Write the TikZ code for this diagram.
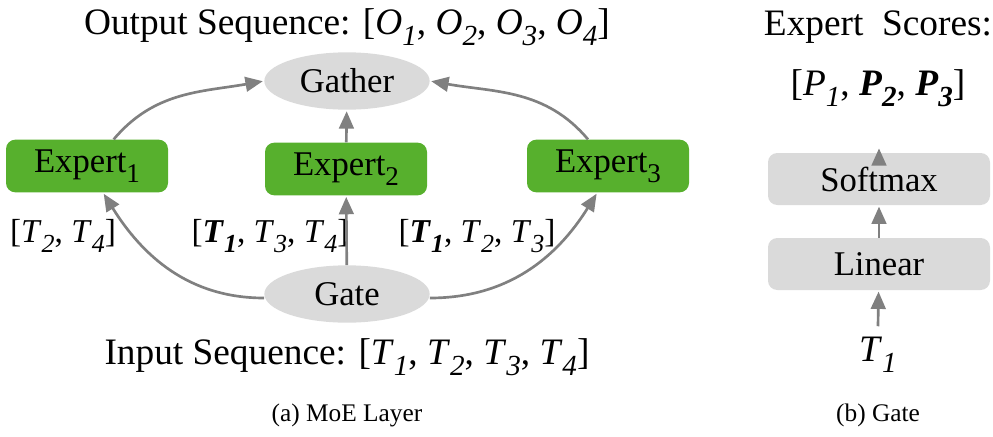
\documentclass[tikz,border=0pt]{standalone}
\usepackage{fontspec}
\setmainfont{Liberation Serif}
\usetikzlibrary{arrows.meta, positioning, shapes.geometric}
\definecolor{moeGreen}{RGB}{87,176,45}
\definecolor{moeGray}{RGB}{218,218,218}
\definecolor{moeArrow}{RGB}{128,128,128}
\newcommand{\lowsub}[1]{\raisebox{-0.3em}{\scalebox{0.78}{#1}}}
\newcommand{\tok}[2]{\textit{#1}\lowsub{\textit{#2}}}
\newcommand{\btok}[2]{\textbf{\textit{#1}\lowsub{\textbf{\textit{#2}}}}}

\begin{document}
\begin{tikzpicture}[x=0.75pt, y=-0.75pt,
    expert/.style={rounded corners=7pt, fill=moeGreen, minimum width=121.5pt, minimum height=39.5pt,
      inner sep=0pt, font=\fontsize{26}{30}\selectfont},
    blob/.style={ellipse, fill=moeGray, minimum width=124pt, minimum height=43pt, inner sep=0pt,
      font=\fontsize{26}{30}\selectfont},
    layer/.style={rounded corners=7pt, fill=moeGray, minimum width=166.5pt, minimum height=39pt,
      inner sep=0pt, font=\fontsize{26}{30}\selectfont},
    seq/.style={font=\fontsize{28}{32}\selectfont, inner sep=0pt},
    lbl/.style={font=\fontsize{25}{30}\selectfont, inner sep=0pt},
    caption/.style={font=\fontsize{19}{22}\selectfont, inner sep=0pt},
    arrow/.style={-{Triangle[length=13pt, width=11pt]}, line width=2pt, draw=moeArrow, shorten >=1pt}
  ]
  \useasboundingbox (0,0) rectangle (993,436);

  % (a) MoE layer
  \node[seq] (output) at (347,27) {Output Sequence: [\tok{O}{1}, \tok{O}{2}, \tok{O}{3}, \tok{O}{4}]};
  \node[blob] (gather) at (347,81) {Gather};
  \node[expert] (expertA) at (87,166) {Expert\lowsub{1}};
  \node[expert] (expertB) at (346,169) {Expert\lowsub{2}};
  \node[expert] (expertC) at (608,166) {Expert\lowsub{3}};
  \node[blob] (gate) at (347,294) {Gate};
  \node[seq] (input) at (347,357) {Input Sequence: [\tok{T}{1}, \tok{T}{2}, \tok{T}{3}, \tok{T}{4}]};
  \node[caption] (capA) at (347,415) {(a) MoE Layer};

  \node[lbl] (routeA) at (63,236) {[\tok{T}{2}, \tok{T}{4}]};
  \node[lbl] (routeB) at (270,236) {[\btok{T}{1}, \tok{T}{3}, \tok{T}{4}]};
  \node[lbl] (routeC) at (477,236) {[\btok{T}{1}, \tok{T}{2}, \tok{T}{3}]};

  \draw[arrow] ([xshift=20pt]expertA.north) to[out=50, in=190] (gather.west);
  \draw[arrow] ([xshift=-15pt]expertC.north) to[out=130, in=-10] (gather.east);
  \draw[arrow] (expertB) -- (gather);
  \draw[arrow] (gate) -- (expertB);
  \draw[arrow] ([yshift=-3pt]gate.west) to[out=180, in=-58] ([xshift=12pt]expertA.south);
  \draw[arrow] ([yshift=-3pt]gate.east) to[out=0, in=-122] ([xshift=-8pt]expertC.south);

  % (b) gate
  \node[seq] (scoresTitle) at (878,27) {Expert\hspace{0.25em} Scores:};
  \node[seq] (scores) at (878,88) {[\tok{P}{1}, \btok{P}{2}, \btok{P}{3}]};
  \node[layer] (softmax) at (879,179) {Softmax};
  \node[layer] (linear) at (879,264) {Linear};
  \node[seq] (token) at (878,355) {\tok{T}{1}};
  \node[caption] (capB) at (878,415) {(b) Gate};

  \draw[arrow] ([yshift=8pt]token.north) -- (linear);
  \draw[arrow] (linear) -- (softmax);
  \draw[arrow] (softmax) -- ++(0,-32);
\end{tikzpicture}
\end{document}
